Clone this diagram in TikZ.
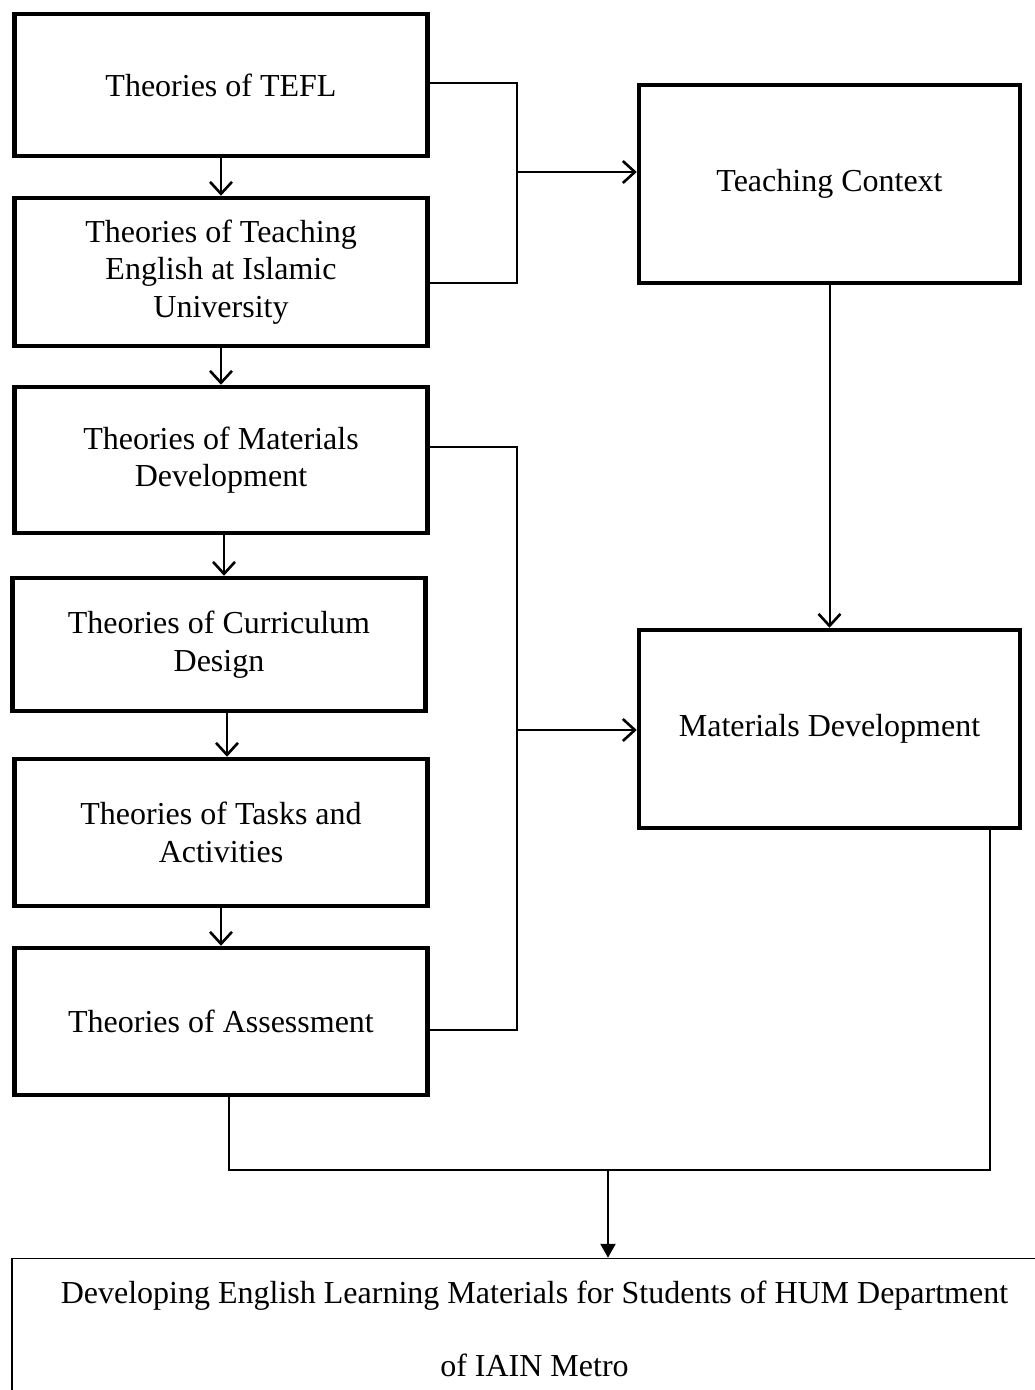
\documentclass[tikz,border=0pt]{standalone}
\usepackage{fontspec}
\setmainfont{Liberation Serif}
\usepackage{tikz}
\usetikzlibrary{arrows.meta,scopes,positioning}

\begin{document}
\begin{tikzpicture}[
    x=1pt,y=-1pt,
    theory/.style={rectangle,draw=black,line width=4.5pt,minimum width=413pt,align=center,
        font=\fontsize{32}{37.5}\selectfont},
    topic/.style={rectangle,draw=black,line width=4.5pt,minimum width=381pt,minimum height=198pt,
        align=center,font=\fontsize{32}{37.5}\selectfont},
    result/.style={rectangle,draw=black,line width=1.5pt,minimum width=1045pt,minimum height=140pt,
        align=center,font=\fontsize{32}{37.5}\selectfont},
    link/.style={draw=black,line width=2pt},
    flow/.style={link,-{Straight Barb[length=12pt,width=22pt,line width=2.6pt]}},
    final/.style={link,line width=2.4pt,-{Triangle[length=14pt,width=15pt]}},
]

    \useasboundingbox (0,0) rectangle (1035,1390);
    \clip (0,0) rectangle (1035,1390);

    %%%

    % Theories on the left
    \node[theory,minimum height=142pt] (tefl) at (221,85) {Theories of TEFL};
    \node[theory,minimum height=148pt] (islamic) at (221,272) {Theories of Teaching\\English at Islamic\\University};
    \node[theory,minimum height=146pt] (matdev) at (221,460) {Theories of Materials\\Development};
    \node[theory,minimum height=133pt] (curr) at (219,644.5) {Theories of Curriculum\\Design};
    \node[theory,minimum height=147pt] (tasks) at (221,832.5) {Theories of Tasks and\\Activities};
    \node[theory,minimum height=147pt] (assess) at (221,1021.5) {Theories of Assessment};

    % Context and development on the right
    \node[topic] (context) at (829.5,184) {Teaching Context};
    \node[topic] (develop) at (829.5,729) {Materials Development};

    % Final product
    \node[result] (product) at (534.5,1328.5) {Developing English Learning Materials for Students of HUM Department\\[35.5pt]of IAIN Metro};

    % Arrows down the theories
    {[flow]
        \draw (tefl) -- (islamic);
        \draw (islamic) -- (matdev);
        \draw ([xshift=3pt]matdev.south) -- ([xshift=3pt]matdev.south |- curr.north);
        \draw ([xshift=8pt]curr.south) -- ([xshift=8pt]curr.south |- tasks.north);
        \draw (tasks) -- (assess);
    }

    % Brackets to the right
    \coordinate (j1) at (517,172);
    \coordinate (j2) at (517,730);
    \coordinate (j3) at (608,1170);
    \draw[link] ([yshift=2pt]tefl.east) -| (j1) |- ([yshift=-11pt]islamic.east);
    \draw[flow] (j1) -- (j1 -| context.west);
    \draw[link] ([yshift=13pt]matdev.east) -| (j2) |- ([yshift=-8.5pt]assess.east);
    \draw[flow] (j2) -- (j2 -| develop.west);
    \draw[flow] (context) -- (develop);

    % Joining into the product
    \draw[link] ([xshift=8pt]assess.south) |- (j3);
    \draw[link] ([xshift=-32pt]develop.south east) |- (j3);
    \draw[final] (j3) -- (j3 |- product.north);

\end{tikzpicture}
\end{document}
